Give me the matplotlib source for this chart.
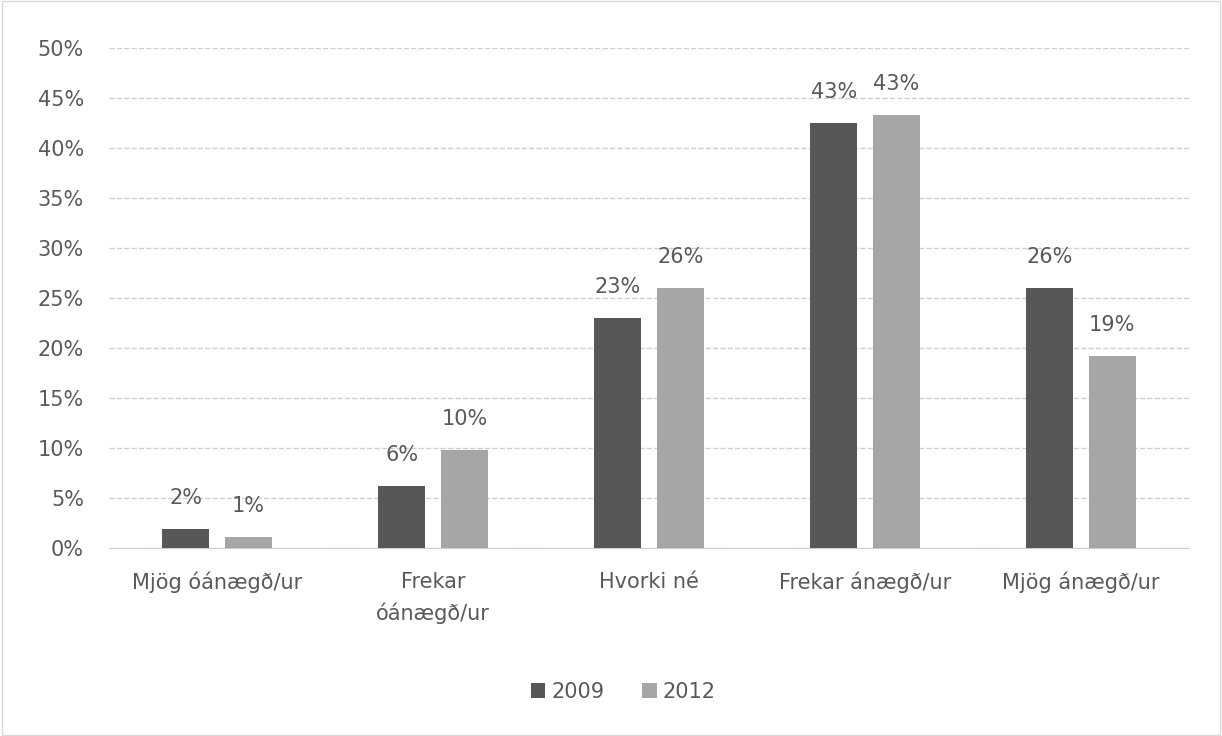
import matplotlib.pyplot as plt
import numpy as np
from matplotlib.patches import Rectangle

plt.rcParams['font.family'] = ['DejaVu Sans']

flokkar = ["Mjög óánægð/ur", "Frekar\nóánægð/ur", "Hvorki né", "Frekar ánægð/ur", "Mjög ánægð/ur"]
gildi_2009 = [1.9, 6.2, 23.0, 42.5, 26.0]
gildi_2012 = [1.1, 9.8, 26.0, 43.3, 19.2]
merki_2009 = ["2%", "6%", "23%", "43%", "26%"]
merki_2012 = ["1%", "10%", "26%", "43%", "19%"]

textalitur = '#595959'
stafast = 15

fig = plt.figure(figsize=(12.22, 7.36), dpi=100)
ax = fig.add_axes([0.0892, 0.2554, 0.8838, 0.6794])

x = np.arange(len(flokkar))
breidd = 0.22
bil = 0.145
b1 = ax.bar(x - bil, gildi_2009, breidd, color='#575757', label='2009', zorder=3)
b2 = ax.bar(x + bil, gildi_2012, breidd, color='#a6a6a6', label='2012', zorder=3)

for stikur, merki in ((b1, merki_2009), (b2, merki_2012)):
    for s, m in zip(stikur, merki):
        ax.annotate(m, (s.get_x() + s.get_width() / 2, s.get_height()),
                    xytext=(0, 15), textcoords='offset points',
                    ha='center', va='bottom', fontsize=stafast, color=textalitur)

ax.set_xlim(-0.5, 4.5)
ax.set_ylim(0, 50)
ax.set_yticks(range(0, 51, 5))
ax.set_yticklabels([f"{v}%" for v in range(0, 51, 5)])
ax.set_xticks(x)
ax.set_xticklabels(flokkar, linespacing=1.6)
ax.tick_params(axis='both', length=0, labelsize=stafast, labelcolor=textalitur)
ax.tick_params(axis='x', pad=17)
ax.tick_params(axis='y', pad=18)
ax.grid(axis='y', color='#cfcfcf', linestyle='--', linewidth=1, zorder=0)
for hlid in ['top', 'right', 'left']:
    ax.spines[hlid].set_visible(False)
ax.spines['bottom'].set_color('#cfcfcf')

fig.legend(loc='center', bbox_to_anchor=(0.51, 0.06), ncol=2, frameon=False,
           fontsize=stafast, labelcolor=textalitur, handlelength=0.7, handleheight=0.7,
           handletextpad=0.3, columnspacing=1.8)

fig.patches.append(Rectangle((0.002, 0.002), 0.996, 0.996, transform=fig.transFigure,
                             fill=False, edgecolor='#d9d9d9', linewidth=1))

plt.savefig('out.png', dpi=100)
